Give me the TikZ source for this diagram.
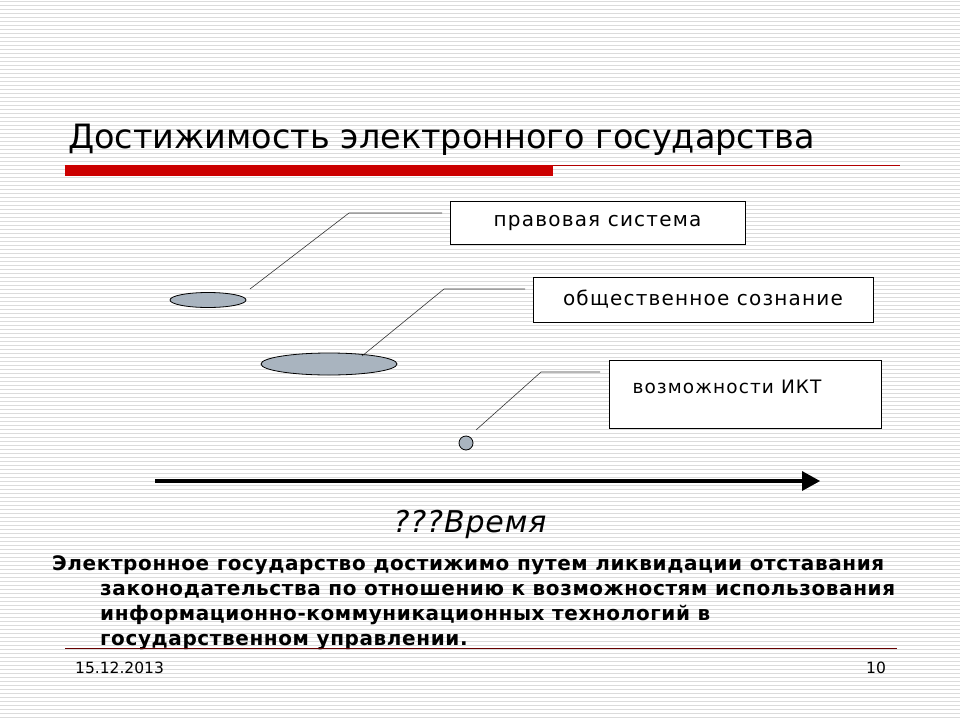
\documentclass[tikz,border=0pt]{standalone}
\usepackage{fontspec}
\setmainfont{DejaVu Sans}
\newfontfamily\spfont[LetterSpace=6]{DejaVu Sans}
\newfontfamily\spbfont[LetterSpace=3]{DejaVu Sans}
\definecolor{blobc}{HTML}{A9B4BF}
\begin{document}
\begin{tikzpicture}[x=1pt,y=-1pt,
  lbl/.style={draw=black,fill=white,line width=0.8pt,inner sep=0pt,font=\spfont\fontsize{20}{23}\selectfont},
  lead/.style={draw=black!80,line width=0.6pt},
  blob/.style={draw=black,fill=blobc,line width=0.8pt}]
\useasboundingbox (0,0) rectangle (960,720);
\fill[white] (0,0) rectangle (960,720);
\foreach \i in {0,...,179} \draw[black!14,line width=1pt] (0,\i*4+1) -- (960,\i*4+1);
\node[anchor=base west,inner sep=0pt,font=\fontsize{33.5}{38}\selectfont] (title) at (68,148) {Достижимость электронного государства};
\fill[red!80!black] (65,165) rectangle (553,176);
\draw[red!70!black,line width=0.8pt] (553,165) -- (900,165);
\node[lbl,minimum width=295pt,minimum height=43pt] (b1) at (597.5,222.5) {\raisebox{-2pt}{правовая система}};
\node[lbl,minimum width=340pt,minimum height=45pt] (b2) at (703,299.5) {\raisebox{-2pt}{общественное сознание}};
\node[lbl,minimum width=272pt,minimum height=68pt] (b3) at (745,394) {};
\node[anchor=base,inner sep=0pt,font=\spfont\fontsize{18.5}{21}\selectfont] (t3) at (727,393) {возможности ИКТ};
\draw[blob] (208,300) ellipse [x radius=38,y radius=7.5];
\draw[blob] (329,364) ellipse [x radius=68,y radius=11];
\draw[blob] (466,443) circle [radius=7];
\coordinate (e1) at (250,289); \coordinate (e2) at (362,356); \coordinate (e3) at (476,430);
\draw[lead] (e1) -- (349,213) -- (442,213);
\draw[lead] (e2) -- (444,289) -- (525,289);
\draw[lead] (e3) -- (541,372) -- (600,372);
\coordinate (a0) at (155,481); \coordinate (a1) at (802,481);
\draw[line width=3.5pt] (a0) -- (a1);
\fill (a1) ++(0,-10) -- (820,481) -- (802,491) -- cycle;
\node[anchor=base,inner sep=0pt,font=\spbfont\fontsize{30}{34}\selectfont\itshape] (time) at (470,532) {???Время};
\begin{scope}[every node/.style={anchor=base west,inner sep=0pt,font=\spbfont\fontsize{20}{23}\selectfont\bfseries}]
\node (p1) at (52,570) {Электронное государство достижимо путем ликвидации отставания};
\node (p2) at (100,595) {законодательства по отношению к возможностям использования};
\node (p3) at (100,620) {информационно-коммуникационных технологий в};
\node (p4) at (100,645) {государственном управлении.};
\end{scope}
\draw[red!40!black,line width=0.8pt] (65,648) -- (897,648);
\node[anchor=base west,inner sep=0pt,font=\fontsize{15.5}{18}\selectfont] (date) at (75,673) {15.12.2013};
\node[anchor=base west,inner sep=0pt,font=\fontsize{15.5}{18}\selectfont] (pg) at (866,673) {10};
\end{tikzpicture}
\end{document}
